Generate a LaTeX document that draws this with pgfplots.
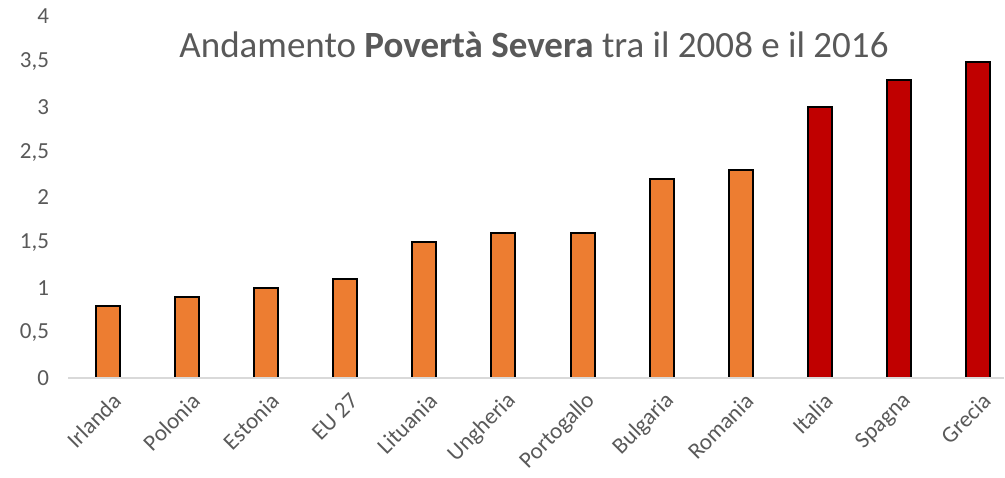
\documentclass[border=0pt]{standalone}
\usepackage{fontspec}
\setmainfont{Carlito}
\usepackage{pgfplots}
\pgfplotsset{compat=1.18}
\definecolor{barorange}{HTML}{ED7D31}
\definecolor{barred}{HTML}{C00000}
\definecolor{txtgray}{HTML}{595959}
\definecolor{axgray}{HTML}{D9D9D9}
\begin{document}
\begin{tikzpicture}[x=1pt,y=1pt]
\path[use as bounding box] (0,0) rectangle (1005,478);
\begin{axis}[
  at={(68.5pt,100pt)}, anchor=south west,
  scale only axis,
  width=935.5pt, height=361.5pt,
  xmin=-0.5, xmax=11.33, ymin=0, ymax=4,
  axis line style={draw=none},
  axis x line*=bottom,
  axis y line*=left,
  ytick={0,0.5,...,4},
  xtick={0,...,11},
  xticklabels={Irlanda,Polonia,Estonia,EU 27,Lituania,Ungheria,Portogallo,Bulgaria,Romania,Italia,Spagna,Grecia},
  major tick length=0pt,
  /pgf/number format/assume math mode=true,
  /pgf/number format/use comma,
  yticklabel style={font=\fontsize{23}{26}\selectfont, text=txtgray, anchor=east, xshift=-16pt},
  xticklabel style={font=\fontsize{23}{26}\selectfont, text=txtgray, rotate=45, anchor=east, xshift=-4pt, yshift=-20pt},
  clip=false,
]
\addplot[ybar, bar width=24pt, fill=barorange, draw=black, line width=2pt] coordinates {
 (0,0.8) (1,0.9) (2,1.0) (3,1.1) (4,1.5) (5,1.6) (6,1.6) (7,2.2) (8,2.3)};
\addplot[ybar, bar width=24pt, fill=barred, draw=black, line width=2pt] coordinates {
 (9,3.0) (10,3.3) (11,3.5)};
\draw[axgray, line width=1.5pt] (axis cs:-0.5,0) -- (axis cs:11.33,0);
\end{axis}
\node[font=\fontsize{37}{40}\selectfont, text=txtgray] at (534,433) {Andamento \textbf{Povertà Severa} tra il 2008 e il 2016};
\end{tikzpicture}
\end{document}
